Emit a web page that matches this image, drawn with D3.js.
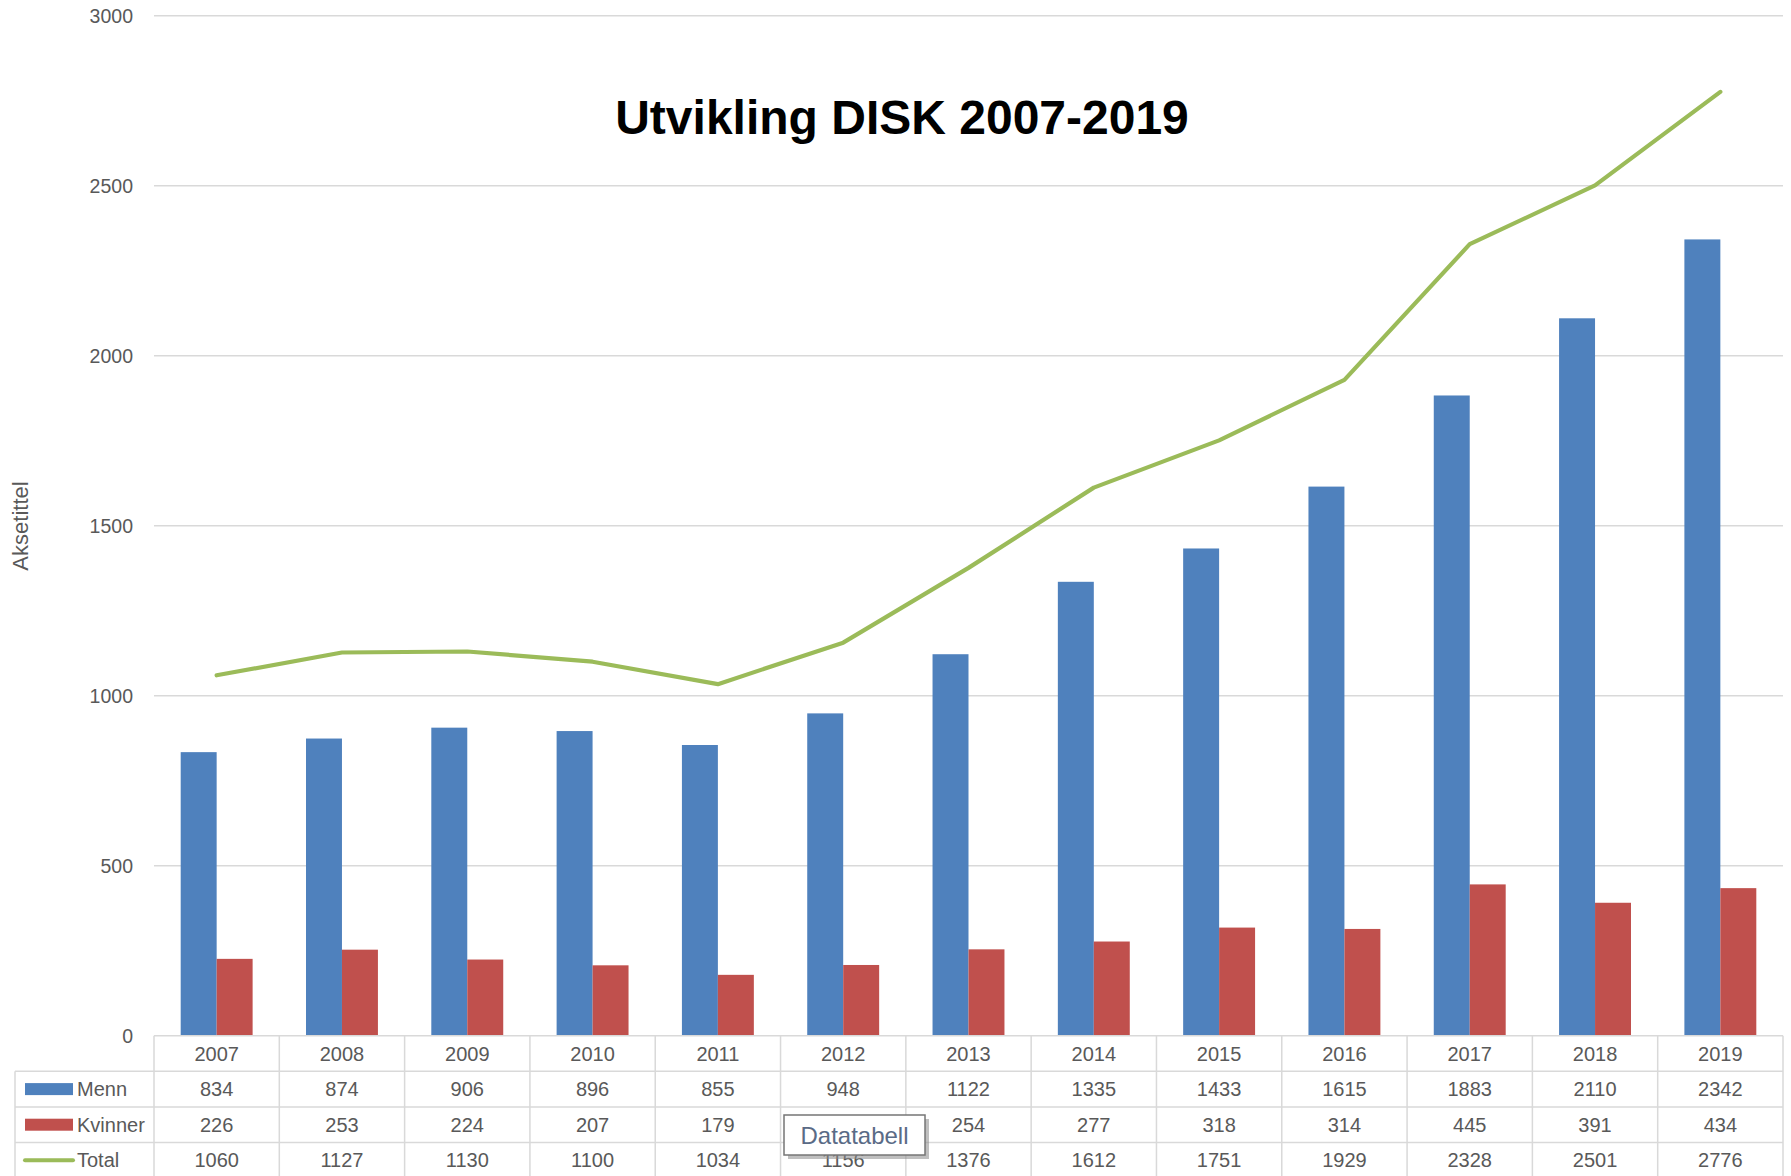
<!DOCTYPE html>
<html>
<head>
<meta charset="utf-8">
<script src="https://cdn.jsdelivr.net/npm/d3@7"></script>
<style>
  html, body { margin: 0; padding: 0; background: #fff; }
  svg { display: block; font-family: "Liberation Sans", Arial, sans-serif; }
  .grid line { stroke: #d9d9d9; stroke-width: 1.5; }
  .tick-label { fill: #595959; font-size: 19.5px; }
  .cell { fill: #595959; font-size: 20px; }
  .tbl { stroke: #d9d9d9; stroke-width: 1.5; }
</style>
</head>
<body>
<svg id="chart" width="1791" height="1176" viewBox="0 0 1791 1176"></svg>
<script>
// data (Datatabell under the chart)
var years   = ["2007","2008","2009","2010","2011","2012","2013","2014","2015","2016","2017","2018","2019"];
var menn    = [834, 874, 906, 896, 855, 948, 1122, 1335, 1433, 1615, 1883, 2110, 2342];
var kvinner = [226, 253, 224, 207, 179, 208, 254, 277, 318, 314, 445, 391, 434];
var total   = [1060, 1127, 1130, 1100, 1034, 1156, 1376, 1612, 1751, 1929, 2328, 2501, 2776];
var yTicks  = [0, 500, 1000, 1500, 2000, 2500, 3000];

var series = [
  { name: "Menn",    values: menn,    color: "#4f81bd", kind: "bar" },
  { name: "Kvinner", values: kvinner, color: "#c0504d", kind: "bar" },
  { name: "Total",   values: total,   color: "#9bbb59", kind: "line" }
];

var svg = d3.select("#chart");
var L = 154, R = 1783, T = 15.7, B = 1035.7;

var x = d3.scaleBand().domain(years).range([L, R]).padding(0);
var y = d3.scaleLinear().domain([0, 3000]).range([B, T]);
var bw = x.bandwidth() * 0.287;

// gridlines + y labels
var grid = svg.append("g").attr("class", "grid");
grid.selectAll("line").data(yTicks.filter(function (d) { return d > 0; })).join("line")
  .attr("x1", L).attr("x2", R)
  .attr("y1", function (d) { return y(d); }).attr("y2", function (d) { return y(d); });
svg.append("g").selectAll("text").data(yTicks).join("text")
  .attr("class", "tick-label")
  .attr("x", 133).attr("y", function (d) { return y(d) + 7; })
  .attr("text-anchor", "end").text(function (d) { return d; });

// axis title
svg.append("text")
  .attr("transform", "translate(28,526) rotate(-90)")
  .attr("text-anchor", "middle").attr("fill", "#595959")
  .style("font-size", "22px").text("Aksetittel");

// bars
var gBar = svg.append("g");
series.filter(function (s) { return s.kind === "bar"; }).forEach(function (s, si) {
  gBar.selectAll("rect.s" + si).data(s.values).join("rect")
    .attr("class", "s" + si)
    .attr("x", function (d, i) { return x(years[i]) + x.bandwidth() / 2 - bw + si * bw; })
    .attr("y", function (d) { return y(d); })
    .attr("width", bw)
    .attr("height", function (d) { return y(0) - y(d); })
    .attr("fill", s.color);
});

// total line
var line = d3.line()
  .x(function (d, i) { return x(years[i]) + x.bandwidth() / 2; })
  .y(function (d) { return y(d); });
svg.append("path").datum(total)
  .attr("d", line).attr("fill", "none")
  .attr("stroke", "#9bbb59").attr("stroke-width", 4.2)
  .attr("stroke-linejoin", "round").attr("stroke-linecap", "round");

// title
svg.append("text")
  .attr("x", 902).attr("y", 134)
  .attr("text-anchor", "middle")
  .style("font-size", "48px").style("font-weight", "bold")
  .attr("fill", "#000")
  .text("Utvikling DISK 2007-2019");

// data table
var rowH = 35.6, legL = 15;
var rowTop = function (r) { return B + r * rowH; };   // r=0 year row
var gT = svg.append("g");
// horizontal lines
gT.append("line").attr("class", "tbl").attr("x1", L).attr("x2", R).attr("y1", rowTop(0)).attr("y2", rowTop(0));
[1, 2, 3, 4].forEach(function (r) {
  gT.append("line").attr("class", "tbl").attr("x1", legL).attr("x2", R)
    .attr("y1", rowTop(r)).attr("y2", rowTop(r));
});
// vertical lines
gT.append("line").attr("class", "tbl").attr("x1", legL).attr("x2", legL).attr("y1", rowTop(1)).attr("y2", 1176);
gT.selectAll("line.v").data(years.concat(["end"])).join("line").attr("class", "tbl v")
  .attr("x1", function (d, i) { return L + i * x.bandwidth(); })
  .attr("x2", function (d, i) { return L + i * x.bandwidth(); })
  .attr("y1", rowTop(0)).attr("y2", 1176);

// year labels
gT.selectAll("text.yr").data(years).join("text").attr("class", "cell yr")
  .attr("x", function (d) { return x(d) + x.bandwidth() / 2; })
  .attr("y", rowTop(0) + rowH / 2 + 7).attr("text-anchor", "middle").text(function (d) { return d; });

// the tooltip hides the 2012 Kvinner cell completely in the reference
var hidden = { "Kvinner": "2012" };

series.forEach(function (s, si) {
  var cy = rowTop(si + 1) + rowH / 2;
  var cells = s.values.map(function (v, i) { return { v: v, year: years[i] }; })
    .filter(function (c) { return hidden[s.name] !== c.year; });
  gT.selectAll("text.v" + si).data(cells).join("text").attr("class", "cell v" + si)
    .attr("x", function (c) { return x(c.year) + x.bandwidth() / 2; })
    .attr("y", cy + 7).attr("text-anchor", "middle").text(function (c) { return c.v; });
  if (s.kind === "bar") {
    gT.append("rect").attr("x", 25).attr("y", cy - 6).attr("width", 48).attr("height", 12).attr("fill", s.color);
  } else {
    gT.append("line").attr("x1", 25).attr("x2", 73).attr("y1", cy).attr("y2", cy)
      .attr("stroke", s.color).attr("stroke-width", 4).attr("stroke-linecap", "round");
  }
  gT.append("text").attr("class", "cell").attr("x", 77).attr("y", cy + 7).text(s.name);
});

// "Datatabell" hover tooltip over the table
var tip = svg.append("g");
tip.append("rect").attr("x", 788).attr("y", 1119).attr("width", 141).attr("height", 40)
  .attr("fill", "#8a8a8a").attr("opacity", 0.55);
tip.append("rect").attr("x", 784).attr("y", 1115).attr("width", 141).attr("height", 40)
  .attr("fill", "#fff").attr("stroke", "#767676").attr("stroke-width", 1.5);
tip.append("text").attr("x", 854.5).attr("y", 1144).attr("text-anchor", "middle")
  .attr("fill", "#5a6b86").style("font-size", "24px").text("Datatabell");
</script>
</body>
</html>
